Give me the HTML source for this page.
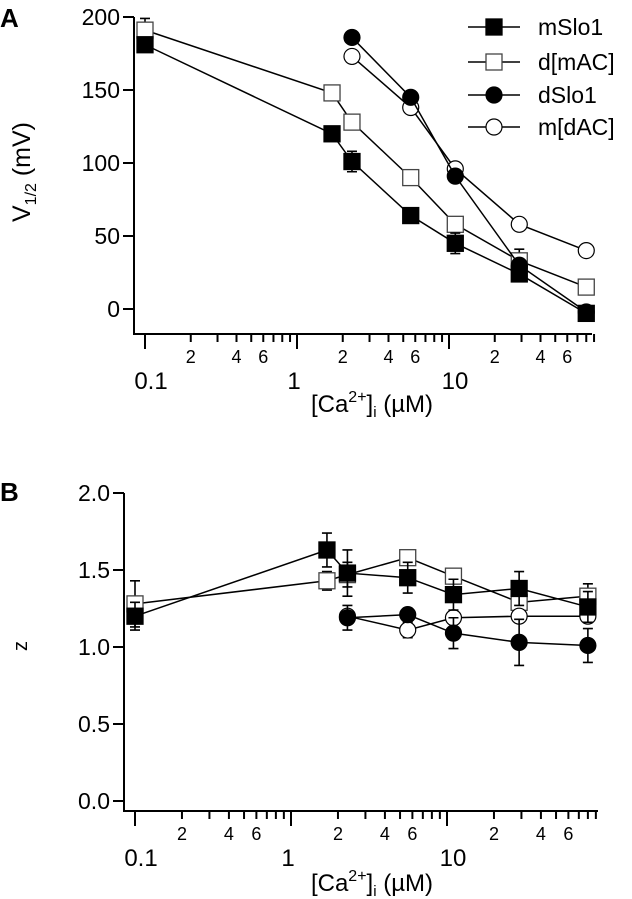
<!DOCTYPE html>
<html><head><meta charset="utf-8"><style>
body{margin:0;background:#fff;overflow:hidden}
svg{display:block;font-family:"Liberation Sans",Arial,sans-serif}
</style></head><body>
<svg id="s" width="632" height="899" viewBox="0 0 632 899">
<text x="0" y="27" font-size="26" font-weight="bold">A</text>
<text x="0" y="501" font-size="26" font-weight="bold">B</text>
<g id="ga"></g>
<g id="gb"></g>
</svg>
<script>
const conc=[0.1,1.7,2.3,5.6,11,29,80];
const concD=[2.3,5.6,11,29,80];
const aMSlo=[181,120,101,64,45,24,-3];
const aMSloErr=[4,4,7,3,7,4,3];
const aDmAC=[191,148,128,90,58,33,15];
const aDmACErr=[8,3,4,3,5,8,5];
const aDSlo=[186,145,91,30,-2];
const aDSloErr=[2,2,4,3,2];
const aMdAC=[173,138,96,58,40];
const aMdACErr=[3,3,3,3,3];
const bMSlo=[1.20,1.63,1.48,1.45,1.34,1.38,1.26];
const bMSloErr=[0.09,0.11,0.15,0.10,0.10,0.11,0.10];
const bDmAC=[1.28,1.43,1.47,1.58,1.46,1.29,1.33];
const bDmACErr=[0.15,0.06,0.08,0.04,0.05,0.04,0.08];
const bDSlo=[1.19,1.21,1.09,1.03,1.01];
const bDSloErr=[0.08,0.02,0.10,0.15,0.11];
const bMdAC=[1.20,1.11,1.19,1.20,1.20];
const bMdACErr=[0.02,0.05,0.03,0.03,0.03];
const yTicksA=[0,50,100,150,200];
const yTicksB=[0.0,0.5,1.0,1.5,2.0];
const legendNames=["mSlo1","d[mAC]","dSlo1","m[dAC]"];
const NS="http://www.w3.org/2000/svg";
function mk(p,t,a){const e=document.createElementNS(NS,t);for(const k in a)e.setAttribute(k,a[k]);p.appendChild(e);return e;}
function marker(g,kind,x,y,r){
  let e;
  if(kind==="fs"||kind==="os"){e=mk(g,"rect",{x:x-r,y:y-r,width:2*r,height:2*r,fill:kind==="fs"?"#000":"#fff",stroke:kind==="fs"?"#000":"#444","stroke-width":1.3});}
  else{e=mk(g,"circle",{cx:x,cy:y,r:r,fill:kind==="fc"?"#000":"#fff",stroke:"#000","stroke-width":1.2});}
  
  
}
function panel(g,o){
  const X=v=>o.x0+(Math.log10(v)+1)*o.dec;
  const Y=v=>o.yb-(v-o.ymin)*o.ppu;
  const ax=mk(g,"path",{d:`M${o.axX},${o.yTop} V${o.axY} H${o.axR}`,fill:"none",stroke:"#000","stroke-width":2});
  
  
  o.yt.forEach(v=>{
    mk(g,"line",{x1:o.axX-11,x2:o.axX,y1:Y(v),y2:Y(v),stroke:"#000","stroke-width":2});
    const t=mk(g,"text",{x:o.axX-14,y:Y(v)+8,"font-size":23,"text-anchor":"end"});
    t.textContent=o.fmt(v);
    
    
  });
  for(let d=0;d<3;d++)for(let m=1;m<=9;m++){
    const v=Math.pow(10,d-1)*m;const x=X(v);
    mk(g,"line",{x1:x,x2:x,y1:o.axY,y2:o.axY+(m===1?15:8),stroke:"#000","stroke-width":2});
    if(m===2||m===4||m===6){const t=mk(g,"text",{x:x,y:o.axY+29,"font-size":18,"text-anchor":"middle"});t.textContent=m;
      
      }
  }
  [0.1,1,10].forEach((v,i)=>{const t=mk(g,"text",{x:X(v)+(i==1?-3:6),y:o.axY+55,"font-size":24,"text-anchor":"middle"});t.textContent=["0.1","1","10"][i];
    
    });
  const xt=mk(g,"text",{x:372,y:o.axY+o.tY,"font-size":24,"text-anchor":"middle"});
  xt.innerHTML='[Ca<tspan font-size="16" dy="-10">2+</tspan><tspan dy="10">]</tspan><tspan font-size="15" dy="5">i</tspan><tspan dy="-5"> (µM)</tspan>';
  
  
  o.series.forEach(s=>{
    const sg=mk(g,"g",{});
    
    
    mk(sg,"polyline",{points:s.xs.map((c,i)=>X(c)+","+Y(s.ys[i])).join(" "),fill:"none",stroke:"#000","stroke-width":1.5});
    s.xs.forEach((c,i)=>{const x=X(c),y1=Y(s.ys[i]+s.er[i]),y2=Y(s.ys[i]-s.er[i]);
      mk(sg,"path",{d:`M${x},${y1}V${y2}M${x-5},${y1}H${x+5}M${x-5},${y2}H${x+5}`,stroke:"#000","stroke-width":1.6,fill:"none"});});
    s.xs.forEach((c,i)=>marker(sg,s.kind,X(c),Y(s.ys[i]),o.r));
  });
}
const ga=document.getElementById("ga"),gb=document.getElementById("gb");
panel(ga,{x0:145,dec:152,yb:309,ymin:0,ppu:292/200,axX:134,axY:334,axR:592,yTop:17,yt:yTicksA,fmt:v=>String(v),r:8,tY:78,
 series:[{name:"d-mac",kind:"os",xs:conc,ys:aDmAC,er:aDmACErr},{name:"m-dac",kind:"oc",xs:concD,ys:aMdAC,er:aMdACErr},
 {name:"mslo1",kind:"fs",xs:conc,ys:aMSlo,er:aMSloErr},{name:"dslo1",kind:"fc",xs:concD,ys:aDSlo,er:aDSloErr}]});
panel(gb,{x0:135,dec:156,yb:801,ymin:0,ppu:154,axX:124,axY:811,axR:598,yTop:493,yt:yTicksB,fmt:v=>v.toFixed(1),r:8,tY:80,
 series:[{name:"d-mac",kind:"os",xs:conc,ys:bDmAC,er:bDmACErr},{name:"m-dac",kind:"oc",xs:concD,ys:bMdAC,er:bMdACErr},
 {name:"mslo1",kind:"fs",xs:conc,ys:bMSlo,er:bMSloErr},{name:"dslo1",kind:"fc",xs:concD,ys:bDSlo,er:bDSloErr}]});
const ya=mk(ga,"text",{x:30,y:172,"font-size":25,"text-anchor":"middle",transform:"rotate(-90 30 172)"});
ya.innerHTML='V<tspan font-size="16" dy="6">1/2</tspan><tspan dy="-6"> (mV)</tspan>';


const yb=mk(gb,"text",{x:27,y:646,"font-size":20,"text-anchor":"middle",transform:"rotate(-90 27 646)"});
yb.textContent="z";


const kinds=["fs","os","fc","oc"];const ly=[27,62,95,127];
legendNames.forEach((n,i)=>{
  const lg=mk(ga,"g",{});
  
  
  mk(lg,"line",{x1:468,x2:520,y1:ly[i],y2:ly[i],stroke:"#000","stroke-width":1.5});
  marker(lg,kinds[i],494,ly[i],8);
  const t=mk(lg,"text",{x:538,y:ly[i]+8,"font-size":23});t.textContent=n;
});
</script>
</body></html>
